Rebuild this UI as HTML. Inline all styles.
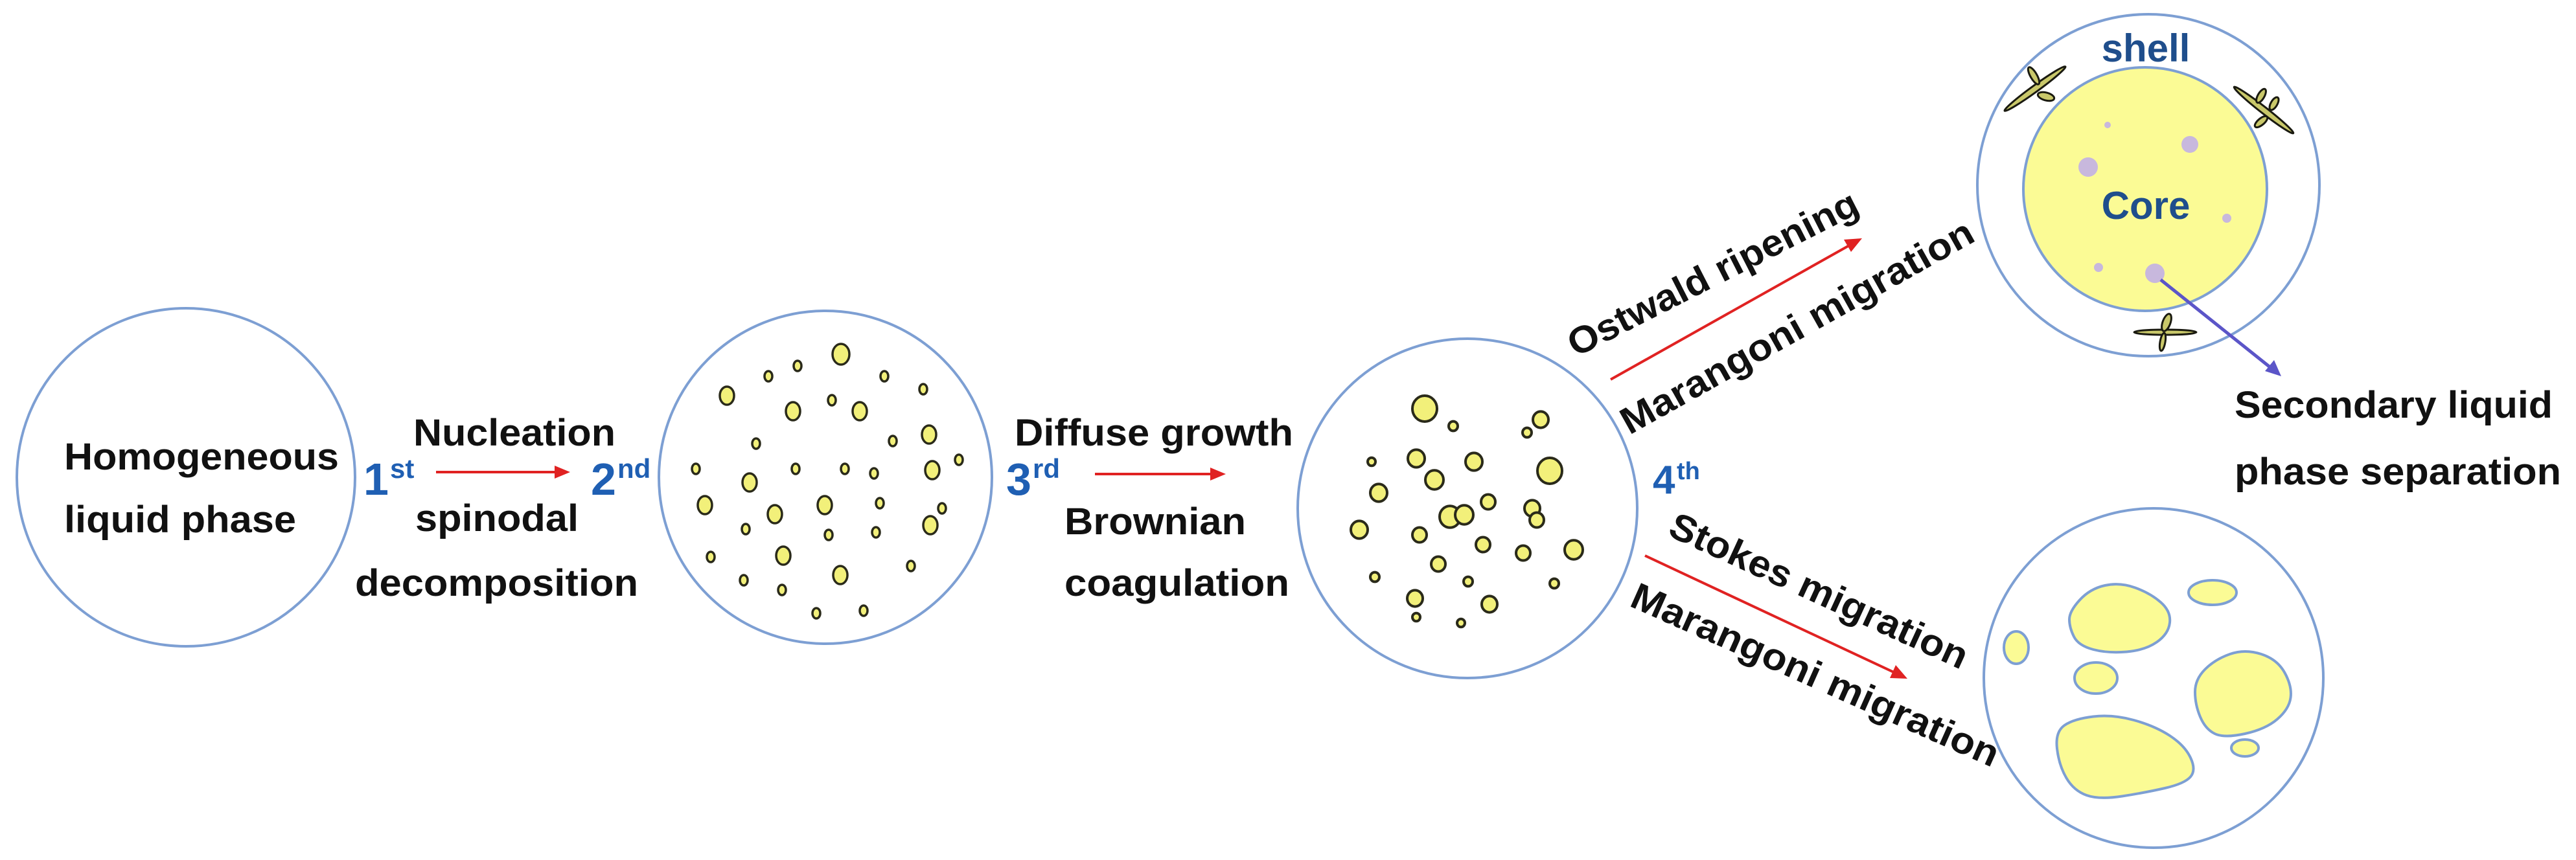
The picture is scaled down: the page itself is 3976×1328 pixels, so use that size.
<!DOCTYPE html>
<html><head><meta charset="utf-8">
<style>
html,body{margin:0;padding:0;background:#fff;}
svg{display:block;}
text{font-family:"Liberation Sans",Arial,sans-serif;font-weight:bold;}
</style></head>
<body>
<svg id="s" width="3976" height="1328" viewBox="0 0 3976 1328" xmlns="http://www.w3.org/2000/svg">
<defs>
<marker id="ar" markerWidth="10" markerHeight="10" refX="8" refY="5" orient="auto" markerUnits="userSpaceOnUse" viewBox="0 0 10 10">
</marker>
</defs>
<rect width="3976" height="1328" fill="#fff"/>
<!-- main circles -->
<g fill="none" stroke="#7d9fd3" stroke-width="4">
<circle cx="287" cy="737" r="261"/>
<circle cx="1274" cy="737" r="257"/>
<circle cx="2265" cy="785" r="262"/>
<circle cx="3316" cy="286" r="264"/>
<circle cx="3324" cy="1047" r="262"/>
</g>
<circle cx="3311" cy="292" r="188" fill="#fbfb95" stroke="#7d9fd3" stroke-width="4"/>

<g id="dots2" fill="#f2f07a" stroke="#2a2a1a" stroke-width="3.5"></g>
<g id="dots3" fill="#f2f07a" stroke="#2a2a1a" stroke-width="4"></g>
<g id="blobs" fill="#fbfb95" stroke="#7d9fd3" stroke-width="4"></g>

<!-- lilac dots in core -->
<g fill="#c8b8dd">
<circle cx="3253" cy="193" r="5"/>
<circle cx="3380" cy="223" r="13"/>
<circle cx="3223" cy="258" r="15"/>
<circle cx="3437" cy="337" r="7"/>
<circle cx="3239" cy="413" r="7"/>
<circle cx="3326" cy="422" r="15"/>
</g>

<!-- shell leaf symbols -->
<g stroke="#1a1a10" stroke-width="3" fill="#c9c86a">
<ellipse cx="3141" cy="137" rx="58" ry="5" transform="rotate(-36 3141 137)"/>
<ellipse cx="3139" cy="117" rx="15" ry="5" transform="rotate(60 3139 117)"/>
<ellipse cx="3158" cy="149" rx="13" ry="6" transform="rotate(15 3158 149)"/>
<ellipse cx="3494" cy="170" rx="58" ry="5" transform="rotate(38 3494 170)"/>
<ellipse cx="3490" cy="148" rx="12" ry="5" transform="rotate(-60 3490 148)"/>
<ellipse cx="3510" cy="160" rx="11" ry="5" transform="rotate(-60 3510 160)"/>
<ellipse cx="3490" cy="188" rx="12" ry="5" transform="rotate(-40 3490 188)"/>
<ellipse cx="3342" cy="513" rx="48" ry="4"/>
<ellipse cx="3344" cy="498" rx="6" ry="14" transform="rotate(20 3344 498)"/>
<ellipse cx="3338" cy="528" rx="4" ry="14" transform="rotate(10 3338 528)"/>
</g>

<!-- red arrows -->
<g stroke="#e02222" stroke-width="4" fill="#e02222">
<line x1="673" y1="729" x2="860" y2="729"/>
<polygon points="880,729 856,719 856,739" stroke="none"/>
<line x1="1690" y1="732" x2="1872" y2="732"/>
<polygon points="1892,732 1868,722 1868,742" stroke="none"/>
<line x1="2486" y1="586" x2="2856" y2="378"/>
<polygon points="2874,368 2846,370 2857,389" stroke="none" transform="rotate(0)"/>
<line x1="2539" y1="858" x2="2925" y2="1039"/>
<polygon points="2944,1048 2926,1027 2917,1047" stroke="none"/>
</g>
<!-- purple arrow -->
<g stroke="#5b55c8" stroke-width="5" fill="#5b55c8">
<line x1="3335" y1="432" x2="3505" y2="568"/>
<polygon points="3521,581 3510,556 3496,573" stroke="none"/>
</g>

<!-- text -->
<g fill="#111" font-size="58">
<text x="99" y="725" textLength="424" lengthAdjust="spacingAndGlyphs">Homogeneous</text>
<text x="99" y="822" textLength="358" lengthAdjust="spacingAndGlyphs">liquid phase</text>
<text x="638" y="688" textLength="312" lengthAdjust="spacingAndGlyphs">Nucleation</text>
<text x="641" y="820" textLength="252" lengthAdjust="spacingAndGlyphs">spinodal</text>
<text x="548" y="920" textLength="437" lengthAdjust="spacingAndGlyphs">decomposition</text>
<text x="1566" y="688" textLength="430" lengthAdjust="spacingAndGlyphs">Diffuse growth</text>
<text x="1643" y="825" textLength="280" lengthAdjust="spacingAndGlyphs">Brownian</text>
<text x="1643" y="920" textLength="347" lengthAdjust="spacingAndGlyphs">coagulation</text>
<text x="3449" y="645" textLength="491" lengthAdjust="spacingAndGlyphs">Secondary liquid</text>
<text x="3449" y="748" textLength="504" lengthAdjust="spacingAndGlyphs">phase separation</text>
<text x="2432" y="552" textLength="495" lengthAdjust="spacingAndGlyphs" transform="rotate(-27 2432 552)">Ostwald ripening</text>
<text x="2515" y="672" textLength="615" lengthAdjust="spacingAndGlyphs" transform="rotate(-29.3 2515 672)">Marangoni migration</text>
<text x="2572" y="826" textLength="500" lengthAdjust="spacingAndGlyphs" transform="rotate(24.6 2572 826)">Stokes migration</text>
<text x="2513" y="935" textLength="615" lengthAdjust="spacingAndGlyphs" transform="rotate(24 2513 935)">Marangoni migration</text>
</g>
<g fill="#1f5fb3">
<text x="561" y="764" font-size="70">1</text><text x="602" y="738" font-size="42">st</text>
<text x="912" y="764" font-size="70">2</text><text x="953" y="738" font-size="42">nd</text>
<text x="1553" y="764" font-size="70">3</text><text x="1594" y="738" font-size="42">rd</text>
<text x="2551" y="762" font-size="62">4</text><text x="2588" y="740" font-size="38">th</text>
</g>
<g fill="#1f4e8c" font-size="60" text-anchor="middle">
<text x="3312" y="95">shell</text>
<text x="3312" y="338">Core</text>
</g>
</svg>
<script>
var NS="http://www.w3.org/2000/svg";
function el(p,t,a){var e=document.createElementNS(NS,t);for(var k in a)e.setAttribute(k,a[k]);p.appendChild(e);return e;}
var d2=[[1298,547,'L'],[1231,565,'s'],[1186,581,'s'],[1365,581,'s'],[1425,601,'s'],[1122,611,'m'],[1224,635,'m'],[1284,618,'s'],[1327,635,'m'],[1167,685,'s'],[1378,681,'s'],[1434,671,'m'],[1480,710,'s'],[1074,724,'s'],[1157,745,'m'],[1228,724,'s'],[1304,724,'s'],[1349,731,'s'],[1439,726,'m'],[1088,780,'m'],[1273,780,'m'],[1196,794,'m'],[1358,777,'s'],[1454,785,'s'],[1151,817,'s'],[1279,826,'s'],[1352,822,'s'],[1436,811,'m'],[1097,860,'s'],[1209,858,'m'],[1297,888,'m'],[1406,874,'s'],[1148,896,'s'],[1207,911,'s'],[1260,947,'s'],[1333,943,'s']];
var R={L:[13,16],m:[11,14],s:[6,8]};
var g2=document.getElementById('dots2');
d2.forEach(function(d){el(g2,'ellipse',{cx:d[0],cy:d[1],rx:R[d[2]][0],ry:R[d[2]][1]});});
var d3=[[2199,631,19],[2243,658,7],[2378,648,12],[2357,668,7],[2117,713,6],[2186,708,13],[2275,713,13],[2392,727,19],[2214,741,14],[2128,761,13],[2297,775,11],[2365,785,12],[2238,798,16],[2260,795,14],[2372,803,11],[2098,818,13],[2191,826,11],[2289,841,11],[2351,854,11],[2429,849,14],[2220,871,11],[2122,891,7],[2266,898,7],[2399,901,7],[2184,924,12],[2299,933,12],[2186,953,6],[2255,962,6]];
var g3=document.getElementById('dots3');
d3.forEach(function(d){el(g3,'ellipse',{cx:d[0],cy:d[1],rx:d[2],ry:d[2]*1.05});});
function smooth(p){var n=p.length,s='';for(var i=0;i<n;i++){var a=p[i],b=p[(i+1)%n];var m=[(a[0]+b[0])/2,(a[1]+b[1])/2];if(i==0){var z=p[n-1];s='M'+((z[0]+a[0])/2)+','+((z[1]+a[1])/2);}s+=' Q'+a[0]+','+a[1]+' '+m[0]+','+m[1];}return s+'Z';}
var gb=document.getElementById('blobs');
[[[3194,944],[3226,909],[3272,899],[3319,916],[3351,944],[3347,979],[3311,1004],[3254,1009],[3208,997],[3194,969]],
 [[3388,1049],[3419,1018],[3465,1002],[3515,1018],[3538,1060],[3533,1095],[3497,1126],[3433,1140],[3404,1126],[3388,1088]],
 [[3172,1130],[3201,1110],[3261,1103],[3326,1121],[3372,1151],[3390,1189],[3372,1210],[3311,1224],[3240,1235],[3201,1221],[3178,1182]]
].forEach(function(p){el(gb,'path',{d:smooth(p)});});
[[3112,1000,19,25],[3415,915,37,19],[3235,1047,33,24],[3465,1155,21,13]].forEach(function(e){el(gb,'ellipse',{cx:e[0],cy:e[1],rx:e[2],ry:e[3]});});
</script>
</body></html>
